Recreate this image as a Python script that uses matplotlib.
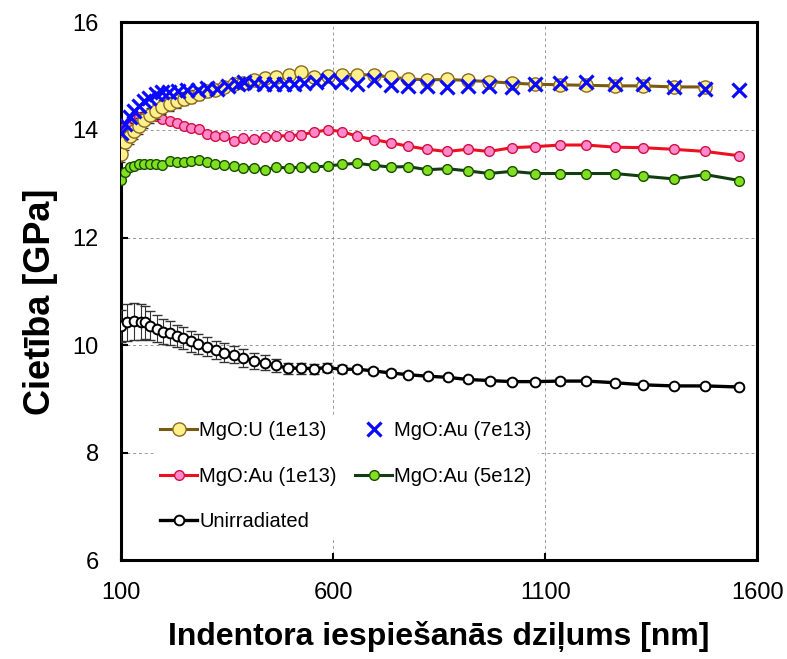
import numpy as np
import matplotlib
matplotlib.use('Agg')
import matplotlib.pyplot as plt

plt.rcParams['font.family'] = ['Liberation Sans', 'DejaVu Sans']

# indentation depth grids [nm]
depth = [100, 110, 120, 130, 142, 154, 168, 182, 197, 214, 231, 247, 264, 283, 302,
         321, 342, 365, 388, 413, 439, 466, 495, 524, 555, 587, 622, 657, 697, 736,
         776, 822, 868, 917, 968, 1021, 1077, 1136, 1197, 1264, 1332, 1403, 1478, 1558]
depth_u = depth[:-1]
depth_au7 = [100, 110, 120, 130, 142, 154, 166, 181, 197, 213, 233, 256, 280, 303, 327,
             352, 375, 390, 413, 437, 461, 484, 508, 531, 559, 587, 618, 657, 697, 736,
             776, 822, 868, 917, 968, 1021, 1077, 1136, 1197, 1264, 1332, 1403, 1478, 1558]
depth_ref = [100, 114, 130, 146, 157, 169, 185, 199, 215, 231, 246, 264, 281, 303, 323,
             342, 365, 388, 413, 439, 465, 494, 524, 554, 585, 621, 657, 695, 736, 776,
             823, 870, 917, 969, 1021, 1077, 1136, 1197, 1264, 1332, 1403, 1478, 1558]

# hardness [GPa]
h_u = [13.55, 13.78, 13.88, 13.98, 14.08, 14.18, 14.27, 14.35, 14.42, 14.48, 14.53, 14.58,
       14.62, 14.67, 14.72, 14.75, 14.80, 14.85, 14.88, 14.92, 14.96, 14.98, 15.02, 15.07,
       14.98, 15.00, 15.03, 15.03, 15.02, 14.98, 14.95, 14.93, 14.94, 14.92, 14.90, 14.87,
       14.85, 14.84, 14.83, 14.82, 14.82, 14.80, 14.80]
err_u = [0.15, 0.15, 0.15, 0.15, 0.15, 0.15, 0.14, 0.14, 0.13, 0.13, 0.12, 0.12, 0.12,
         0.11, 0.10, 0.10, 0.09, 0.08, 0.07, 0.06, 0.05, 0.05, 0.05, 0.04, 0.04, 0.04,
         0.04, 0.04, 0.04, 0.04, 0.04, 0.04, 0.04, 0.04, 0.04, 0.04, 0.04, 0.04, 0.04,
         0.04, 0.04, 0.04, 0.04]
h_au7 = [13.95, 14.12, 14.25, 14.35, 14.45, 14.53, 14.60, 14.66, 14.70, 14.70, 14.72, 14.74,
         14.75, 14.78, 14.77, 14.82, 14.86, 14.90, 14.88, 14.86, 14.85, 14.85, 14.85, 14.87,
         14.90, 14.92, 14.90, 14.86, 14.92, 14.84, 14.82, 14.82, 14.79, 14.81, 14.82, 14.79,
         14.86, 14.87, 14.90, 14.86, 14.85, 14.80, 14.77, 14.75]
h_au1 = [13.95, 14.05, 14.14, 14.20, 14.24, 14.26, 14.29, 14.26, 14.21, 14.17, 14.13, 14.08,
         14.03, 14.02, 13.93, 13.89, 13.88, 13.80, 13.85, 13.83, 13.87, 13.89, 13.89, 13.91,
         13.96, 14.00, 13.97, 13.88, 13.82, 13.76, 13.70, 13.64, 13.60, 13.64, 13.60, 13.67,
         13.69, 13.72, 13.72, 13.68, 13.67, 13.64, 13.60, 13.52]
h_au5 = [13.07, 13.21, 13.31, 13.33, 13.36, 13.37, 13.37, 13.36, 13.35, 13.42, 13.41, 13.40,
         13.42, 13.45, 13.40, 13.36, 13.34, 13.33, 13.30, 13.30, 13.25, 13.31, 13.29, 13.31,
         13.31, 13.33, 13.36, 13.38, 13.34, 13.31, 13.32, 13.26, 13.28, 13.24, 13.19, 13.23,
         13.19, 13.19, 13.19, 13.19, 13.14, 13.09, 13.17, 13.06]
h_ref = [10.36, 10.42, 10.44, 10.43, 10.42, 10.36, 10.30, 10.25, 10.22, 10.17, 10.13, 10.07,
         10.02, 9.97, 9.91, 9.86, 9.82, 9.76, 9.71, 9.67, 9.62, 9.57, 9.57, 9.56, 9.58, 9.55,
         9.55, 9.52, 9.48, 9.45, 9.42, 9.40, 9.36, 9.34, 9.32, 9.32, 9.33, 9.33, 9.30, 9.26,
         9.24, 9.24, 9.22]
err_ref = [0.30, 0.35, 0.35, 0.33, 0.30, 0.27, 0.25, 0.23, 0.22, 0.20, 0.20, 0.19, 0.18,
           0.18, 0.17, 0.17, 0.16, 0.16, 0.15, 0.14, 0.12, 0.10, 0.10, 0.09, 0.08, 0.07,
           0.06, 0.06, 0.05, 0.05, 0.05, 0.05, 0.05, 0.05, 0.05, 0.05, 0.05, 0.05, 0.04,
           0.04, 0.04, 0.04, 0.04]

fig = plt.figure(figsize=(7.87, 6.59), dpi=100)
ax = fig.add_axes([0.154, 0.150, 0.808, 0.816])

ax.plot(depth, h_au5, '-o', color='#123d12', lw=2.2, ms=7,
        mfc='#80e020', mec='#1a4d00', mew=1.0, label='MgO:Au (5e12)', zorder=3)
ax.plot(depth, h_au1, '-o', color='#ee1020', lw=2.2, ms=7,
        mfc='#ff88cc', mec='#d01040', mew=1.0, label='MgO:Au (1e13)', zorder=4)
ax.errorbar(depth_u, h_u, yerr=err_u, fmt='none', ecolor='#333333', elinewidth=0.8,
            capsize=3, zorder=4)
ax.plot(depth_u, h_u, '-o', color='#7a5a10', lw=2.2, ms=9.5,
        mfc='#fff08c', mec='#8a6a20', mew=1.0, label='MgO:U (1e13)', zorder=5)
ax.plot(depth_au7, h_au7, 'x', color='#0a0aff', ms=10.5, mew=2.3,
        label='MgO:Au (7e13)', zorder=6)
ax.errorbar(depth_ref, h_ref, yerr=err_ref, fmt='none', ecolor='#333333', elinewidth=0.8,
            capsize=3.5, zorder=4)
ax.plot(depth_ref, h_ref, '-o', color='black', lw=2.4, ms=7,
        mfc='white', mec='black', mew=1.4, label='Unirradiated', zorder=5)

ax.set_xlim(100, 1600)
ax.set_ylim(6, 16)
ax.set_xticks([100, 600, 1100, 1600])
ax.set_yticks([6, 8, 10, 12, 14, 16])
ax.grid(True, color='#999999', ls=(0, (3, 3)), lw=0.7)
ax.tick_params(direction='in', length=5, width=1.5, labelsize=17, pad=16)
for s in ax.spines.values():
    s.set_linewidth(2.2)

ax.set_xlabel('Indentora iespiešanās dziļums [nm]', fontsize=23, fontweight='bold', labelpad=12)
ax.set_ylabel('Cietība [GPa]', fontsize=26, fontweight='bold')
ax.yaxis.set_label_coords(-0.099, 0.48)

handles, labels = ax.get_legend_handles_labels()
order = ['MgO:U (1e13)', 'MgO:Au (1e13)', 'Unirradiated', 'MgO:Au (7e13)', 'MgO:Au (5e12)']
hmap = dict(zip(labels, handles))
leg = ax.legend([hmap[k] for k in order], order, ncol=2, loc='upper left',
                bbox_to_anchor=(0.036, 0.288), fontsize=14.5, handlelength=1.85,
                handletextpad=0.1, columnspacing=0.9, labelspacing=1.3,
                frameon=True, framealpha=1, facecolor='white', edgecolor='none',
                borderpad=0.3)
leg.set_zorder(2)

fig.savefig('out.png', dpi=100)
